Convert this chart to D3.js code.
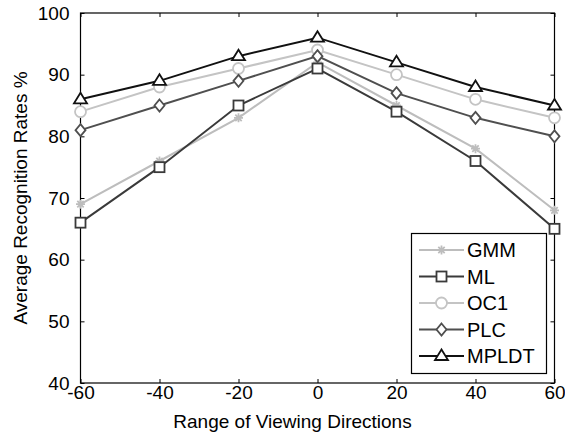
<!DOCTYPE html>
<html><head><meta charset="utf-8">
<script src="https://cdn.jsdelivr.net/npm/d3@7"></script>
<style>body{margin:0;background:#fff}svg{display:block}text{font-family:"Liberation Sans",Arial,sans-serif}</style>
</head><body>
<svg id="c" width="565" height="438"></svg>
<script>
const directions = [-60, -40, -20, 0, 20, 40, 60];
const xTicks = [-60, -40, -20, 0, 20, 40, 60];
const yTicks = [40, 50, 60, 70, 80, 90, 100];
const seriesNames = ["GMM", "ML", "OC1", "PLC", "MPLDT"];
const gmm   = [69, 76, 83, 92, 85, 78, 68];
const ml    = [66, 75, 85, 91, 84, 76, 65];
const oc1   = [84, 88, 91, 94, 90, 86, 83];
const plc   = [81, 85, 89, 93, 87, 83, 80];
const mpldt = [86, 89, 93, 96, 92, 88, 85];

const series = [
  {name: seriesNames[0], values: gmm, color: "#bdbdbd", marker: "star"},
  {name: seriesNames[1], values: ml, color: "#3a3a3a", marker: "square"},
  {name: seriesNames[2], values: oc1, color: "#c4c4c4", marker: "circle"},
  {name: seriesNames[3], values: plc, color: "#4f4f4f", marker: "diamond"},
  {name: seriesNames[4], values: mpldt, color: "#111111", marker: "triangle"}
];

const svg = d3.select("#c");
const L = 80.5, R = 554.5, T = 13, B = 383;
const x = d3.scaleLinear().domain([-60, 60]).range([L, R]);
const y = d3.scaleLinear().domain([40, 100]).range([B, T]);

const fs = "19px";
const fmt = d => String(d);
const ax = svg.append("g").attr("transform", `translate(0,${B})`).call(d3.axisBottom(x).tickValues(xTicks).tickSize(-4).tickPadding(2).tickFormat(fmt));
const axT = svg.append("g").attr("transform", `translate(0,${T})`).call(d3.axisTop(x).tickValues(xTicks).tickSize(-4).tickFormat(""));
const ay = svg.append("g").attr("transform", `translate(${L},0)`).call(d3.axisLeft(y).tickValues(yTicks).tickSize(-4).tickPadding(11).tickFormat(fmt));
const ayR = svg.append("g").attr("transform", `translate(${R},0)`).call(d3.axisRight(y).tickValues(yTicks).tickSize(-4).tickFormat(""));
[ax, axT, ay, ayR].forEach(g => {
  g.select(".domain").remove();
  g.selectAll("line").attr("stroke", "#000").attr("stroke-width", 1);
  g.selectAll("text").attr("font-size", fs).attr("fill", "#000").attr("font-family", '"Liberation Sans",Arial,sans-serif');
});
svg.append("rect").attr("x", L).attr("y", T).attr("width", R - L).attr("height", B - T)
  .attr("fill", "none").attr("stroke", "#000").attr("stroke-width", 1.2);

svg.append("text").attr("x", (L + R) / 2 - 25).attr("y", 428).attr("text-anchor", "middle")
  .attr("font-size", fs).text("Range of Viewing Directions");
svg.append("text").attr("transform", `translate(27,${(T + B) / 2}) rotate(-90)`).attr("text-anchor", "middle")
  .attr("font-size", fs).text("Average Recognition Rates %");

function drawMarker(g, type, cx, cy, color) {
  if (type === "star") {
    const s = 4.5;
    g.append("path").attr("d", `M${cx - s},${cy}H${cx + s}M${cx},${cy - s}V${cy + s}M${cx - 3.2},${cy - 3.2}L${cx + 3.2},${cy + 3.2}M${cx - 3.2},${cy + 3.2}L${cx + 3.2},${cy - 3.2}`)
      .attr("stroke", color).attr("stroke-width", 1.8).attr("fill", "none");
  } else if (type === "square") {
    g.append("rect").attr("x", cx - 5).attr("y", cy - 5).attr("width", 10).attr("height", 10)
      .attr("fill", "#fff").attr("stroke", color).attr("stroke-width", 1.8);
  } else if (type === "circle") {
    g.append("circle").attr("cx", cx).attr("cy", cy).attr("r", 5.5)
      .attr("fill", "#fff").attr("stroke", color).attr("stroke-width", 1.8);
  } else if (type === "diamond") {
    g.append("path").attr("d", `M${cx},${cy - 6}L${cx + 5},${cy}L${cx},${cy + 6}L${cx - 5},${cy}Z`)
      .attr("fill", "#fff").attr("stroke", color).attr("stroke-width", 1.8);
  } else if (type === "triangle") {
    g.append("path").attr("d", `M${cx},${cy - 6.5}L${cx + 6.5},${cy + 4}L${cx - 6.5},${cy + 4}Z`)
      .attr("fill", "#fff").attr("stroke", color).attr("stroke-width", 1.8);
  }
}

const line = d3.line().x((d, i) => x(directions[i])).y(d => y(d));
series.forEach(s => {
  const g = svg.append("g");
  g.append("path").attr("d", line(s.values)).attr("fill", "none").attr("stroke", s.color).attr("stroke-width", 2);
  s.values.forEach((v, i) => drawMarker(g, s.marker, x(directions[i]), y(v), s.color));
});

// legend
const lg = svg.append("g");
lg.append("rect").attr("x", 411.5).attr("y", 233.5).attr("width", 135).attr("height", 140)
  .attr("fill", "#fff").attr("stroke", "#000").attr("stroke-width", 1.2);
series.forEach((s, i) => {
  const cy = 250 + i * 26.5;
  lg.append("line").attr("x1", 419).attr("x2", 464).attr("y1", cy).attr("y2", cy).attr("stroke", s.color).attr("stroke-width", 2);
  drawMarker(lg, s.marker, 441.5, cy, s.color);
  lg.append("text").attr("x", 467).attr("y", cy + 7).attr("font-size", "20px").text(s.name);
});
</script>
</body></html>
